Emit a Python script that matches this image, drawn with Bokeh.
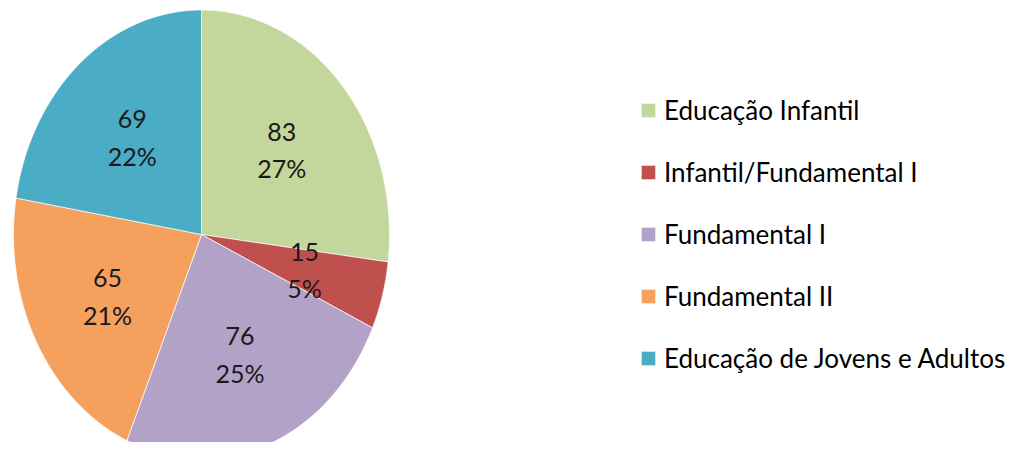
import numpy as np
from bokeh.plotting import figure
from bokeh.models import ColumnDataSource, Range1d
from bokeh.core.properties import value
from bokeh.embed import file_html
from bokeh.resources import INLINE

categories = ["Educação Infantil", "Infantil/Fundamental I", "Fundamental I",
              "Fundamental II", "Educação de Jovens e Adultos"]
counts = [83, 15, 76, 65, 69]
colors = ["#C3D69B", "#C0504D", "#B3A2C7", "#F6A05E", "#4BACC6"]

W, H = 1012, 442
cx, cy = 201, 234      # pie centre in frame pixels (from left / from top)
rx, ry = 188, 224.5    # pie radii in pixels (reference is stretched vertically)

p = figure(width=W, height=H, output_backend="svg", toolbar_location=None,
           x_range=Range1d(-cx / rx, (W - cx) / rx),
           y_range=Range1d(-(H - cy) / ry, cy / ry),
           min_border=0)
p.axis.visible = False
p.grid.visible = False
p.outline_line_color = None

total = sum(counts)
fr = np.cumsum([0] + counts) / total
xs, ys, lx, ly, labels = [], [], [], [], []
for a0, a1, c in zip(fr[:-1], fr[1:], counts):
    t = np.linspace(a0, a1, 200) * 2 * np.pi
    xs.append(list(np.concatenate([[0], np.sin(t), [0]])))
    ys.append(list(np.concatenate([[0], np.cos(t), [0]])))
    m = (a0 + a1) * np.pi
    lx.append(0.57 * np.sin(m))
    ly.append(0.57 * np.cos(m))
    labels.append(f"{c}\n{round(100 * c / total)}%")

src = ColumnDataSource(dict(xs=xs, ys=ys, color=colors, cat=categories))
p.patches("xs", "ys", source=src, fill_color="color", line_color="white",
          line_width=1, line_alpha=0.7, legend_field="cat")

lsrc = ColumnDataSource(dict(x=lx, y=ly, t=labels))
p.text("x", "y", text="t", source=lsrc, text_align="center", text_baseline="middle",
       text_font=value("Lato"), text_font_size="25px",
       text_color="#1a1a1a", text_line_height=1.25)

lg = p.legend[0]
lg.location = (639, 68)
lg.glyph_width = 18
lg.glyph_height = 18
lg.label_standoff = 7
lg.label_height = 30
lg.spacing = 30
lg.padding = 0
lg.margin = 0
lg.border_line_color = None
lg.background_fill_alpha = 0
lg.label_text_font = "Lato"
lg.label_text_font_size = "26px"
lg.label_text_color = "#000000"

open("out.html", "w").write(file_html(p, INLINE))
